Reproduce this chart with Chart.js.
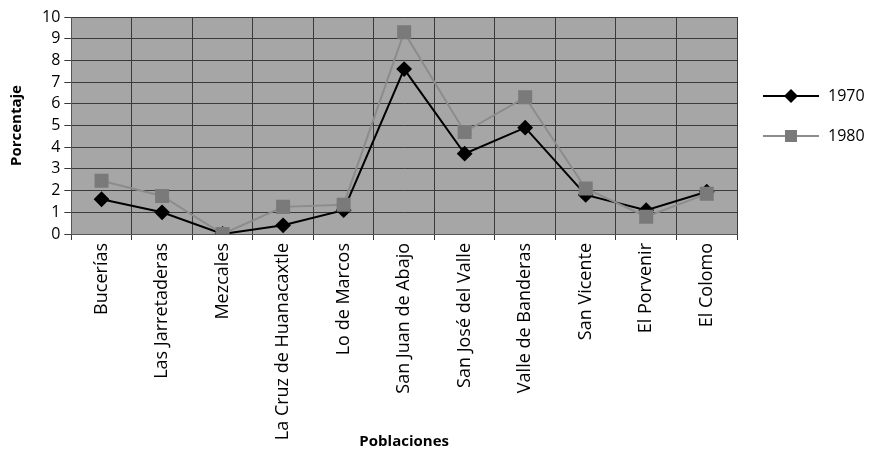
<!DOCTYPE html>
<html>
<head>
<meta charset="utf-8">
<script src="https://cdn.jsdelivr.net/npm/chart.js@4.4.1/dist/chart.umd.min.js"></script>
<style>
  html, body { margin: 0; padding: 0; background: #fff; }
  #wrap { width: 872px; height: 451px; }
</style>
</head>
<body>
<div id="wrap"><canvas id="chart1"></canvas></div>
<script>
const poblaciones = ['Bucerías', 'Las Jarretaderas', 'Mezcales', 'La Cruz de Huanacaxtle', 'Lo de Marcos',
  'San Juan de Abajo', 'San José del Valle', 'Valle de Banderas', 'San Vicente', 'El Porvenir', 'El Colomo'];
const v1970 = [1.6, 1.0, 0, 0.4, 1.1, 7.6, 3.7, 4.9, 1.8, 1.1, 1.95];
const v1980 = [2.45, 1.75, 0, 1.25, 1.35, 9.3, 4.7, 6.3, 2.1, 0.8, 1.85];

const FONT = '"Open Sans", Lato, sans-serif';

// grey plot area + custom legend on the right
const plotBg = {
  id: 'plotBg',
  beforeDraw(chart) {
    const a = chart.chartArea, ctx = chart.ctx;
    ctx.save();
    ctx.fillStyle = '#a6a6a6';
    ctx.fillRect(a.left, a.top, a.right - a.left, a.bottom - a.top);
    ctx.restore();
  },
  afterDraw(chart) {
    const ctx = chart.ctx;
    ctx.save();
    chart.data.datasets.forEach((ds, i) => {
      const y = 96 + i * 40, x0 = 763, x1 = 819;
      ctx.strokeStyle = ds.borderColor;
      ctx.lineWidth = 2;
      ctx.beginPath(); ctx.moveTo(x0, y); ctx.lineTo(x1, y); ctx.stroke();
      ctx.fillStyle = ds.pointBackgroundColor;
      const cx = (x0 + x1) / 2;
      if (ds.pointStyle === 'rectRot') {
        ctx.beginPath();
        ctx.moveTo(cx, y - 7); ctx.lineTo(cx + 7, y); ctx.lineTo(cx, y + 7); ctx.lineTo(cx - 7, y);
        ctx.closePath(); ctx.fill();
      } else {
        ctx.fillRect(cx - 6, y - 6, 12, 12);
      }
      ctx.fillStyle = '#000';
      ctx.font = '16px ' + FONT;
      ctx.textBaseline = 'middle';
      ctx.fillText(ds.label, 828, y);
    });
    ctx.restore();
  }
};

new Chart('chart1', {
  type: 'line',
  data: {
    labels: poblaciones,
    datasets: [{
      label: '1970',
      data: v1970,
      order: 1,
      borderColor: '#000000',
      backgroundColor: '#000000',
      pointBackgroundColor: '#000000',
      pointBorderColor: '#000000',
      pointStyle: 'rectRot',
      pointRadius: 6.5,
      borderWidth: 2,
      tension: 0,
      fill: false
    }, {
      label: '1980',
      data: v1980,
      order: 0,
      borderColor: '#8c8c8c',
      backgroundColor: '#7a7a7a',
      pointBackgroundColor: '#7a7a7a',
      pointBorderColor: '#7a7a7a',
      pointStyle: 'rect',
      pointRadius: 8.5,
      borderWidth: 2,
      tension: 0,
      fill: false
    }]
  },
  options: {
    responsive: true,
    maintainAspectRatio: false,
    animation: false,
    layout: { padding: { left: 4, right: 135, top: 17, bottom: 0 } },
    plugins: {
      legend: { display: false },
      tooltip: { enabled: false }
    },
    scales: {
      x: {
        offset: true,
        grid: { color: '#3a3a3a', lineWidth: 1, offset: true, tickLength: 6, drawOnChartArea: true },
        border: { color: '#555', width: 1 },
        ticks: { color: '#000', font: { family: FONT, size: 18 }, minRotation: 90, maxRotation: 90, padding: 3 },
        title: { display: true, text: 'Poblaciones', color: '#000', font: { family: FONT, size: 15, weight: 'bold' }, padding: { top: 14, bottom: 0 } }
      },
      y: {
        min: 0, max: 10,
        grid: { color: '#3a3a3a', lineWidth: 1, tickLength: 7 },
        border: { color: '#555', width: 1 },
        ticks: { stepSize: 1, autoSkip: false, color: '#000', font: { family: FONT, size: 16 }, padding: 4 },
        title: { display: true, text: 'Porcentaje', color: '#000', font: { family: FONT, size: 15, weight: 'bold' }, padding: { top: 4, bottom: 12 } }
      }
    }
  },
  plugins: [plotBg]
});
</script>
</body>
</html>
